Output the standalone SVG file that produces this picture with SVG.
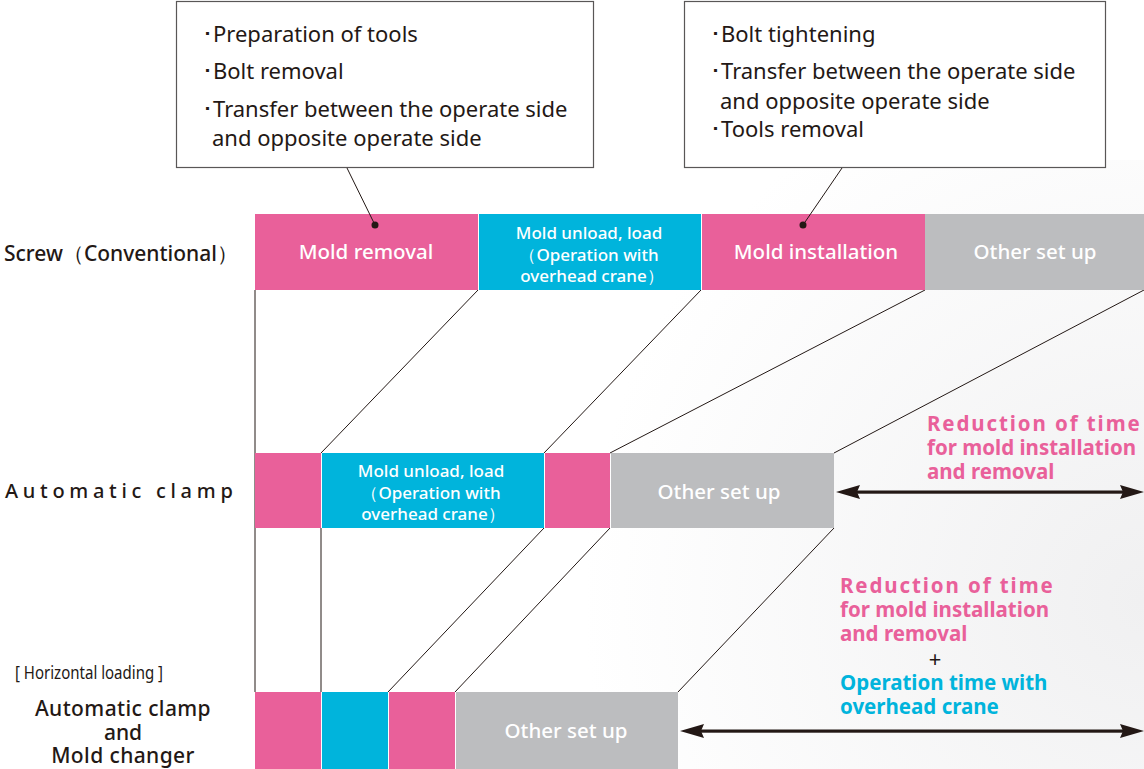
<svg xmlns="http://www.w3.org/2000/svg" width="1144" height="769" viewBox="0 0 1144 769">
<defs>
<radialGradient id="bg" cx="1144" cy="600" r="560" gradientUnits="userSpaceOnUse">
<stop offset="0" stop-color="#f0f0f1"/>
<stop offset="1" stop-color="#ffffff"/>
</radialGradient>
</defs>
<style>
.pk{fill:#e9609a}
.cy{fill:#00b4dc}
.gy{fill:#bcbdbf}
.bt{font-family:"Noto Sans","Open Sans",sans-serif;fill:#ffffff;font-weight:500;text-anchor:middle}
.ct{font-family:"Noto Sans","Open Sans",sans-serif;fill:#231815;font-size:22px}
.lb{font-family:"Noto Sans","Open Sans",sans-serif;fill:#231815;font-weight:500}
.lb.rg{font-weight:400}
.rd{font-family:"Noto Sans","Open Sans",sans-serif;font-weight:700;font-size:20.5px}
.ln{stroke:#231815;stroke-width:1;fill:none}
.ar{fill:#231815}
</style>
<rect x="0" y="0" width="1144" height="769" fill="#ffffff"/>
<rect x="560" y="160" width="584" height="609" fill="url(#bg)"/>

<g id="connectors">
<line class="ln" x1="255" y1="290" x2="255" y2="692"/>
<line class="ln" x1="478" y1="290" x2="321" y2="453"/>
<line class="ln" x1="701" y1="290" x2="544" y2="453"/>
<line class="ln" x1="925" y1="290" x2="610" y2="453"/>
<line class="ln" x1="1144" y1="290" x2="834" y2="453"/>
<line class="ln" x1="321" y1="528" x2="321" y2="692"/>
<line class="ln" x1="544" y1="528" x2="388" y2="692"/>
<line class="ln" x1="610" y1="528" x2="455" y2="692"/>
<line class="ln" x1="834" y1="528" x2="678" y2="692"/>
</g>

<g id="callout1">
<rect x="176.5" y="1.5" width="417" height="166" fill="#ffffff" stroke="#595757" stroke-width="1.2"/>
<text class="ct" x="202" y="42">･Preparation of tools</text>
<text class="ct" x="202" y="79">･Bolt removal</text>
<text class="ct" x="202" y="117">･Transfer between the operate side</text>
<text class="ct" x="212" y="146">and opposite operate side</text>
</g>
<g id="callout2">
<rect x="684.5" y="1.5" width="421" height="166" fill="#ffffff" stroke="#595757" stroke-width="1.2"/>
<text class="ct" x="710" y="42">･Bolt tightening</text>
<text class="ct" x="710" y="79">･Transfer between the operate side</text>
<text class="ct" x="720" y="109">and opposite operate side</text>
<text class="ct" x="710" y="137">･Tools removal</text>
</g>

<g id="row1-label">
<text class="lb" x="4" y="261" font-size="21">Screw（Conventional）</text>
</g>
<g id="row1">
<rect class="pk" x="255" y="214" width="223" height="76"/>
<rect class="cy" x="479" y="214" width="222" height="76"/>
<rect class="pk" x="702" y="214" width="223" height="76"/>
<rect class="gy" x="925" y="214" width="219" height="76"/>
<text class="bt" x="366" y="259" font-size="20.5">Mold removal</text>
<text class="bt" x="589" y="239" font-size="17">Mold unload, load</text>
<text class="bt" x="589" y="261" font-size="17">（Operation with</text>
<text class="bt" x="592" y="282" font-size="17">overhead crane）</text>
<text class="bt" x="816" y="259" font-size="20.5">Mold installation</text>
<text class="bt" x="1035" y="259" font-size="20.5">Other set up</text>
</g>

<g id="leaders">
<line class="ln" x1="347" y1="168" x2="375" y2="225"/>
<line class="ln" x1="842" y1="168" x2="803" y2="225"/>
<circle cx="375" cy="225" r="3.5" fill="#231815"/>
<circle cx="803" cy="225" r="3.5" fill="#231815"/>
</g>

<g id="row2-label">
<text class="lb" x="5" y="498" font-size="20" letter-spacing="4.7">Automatic clamp</text>
</g>
<g id="row2">
<rect class="pk" x="255" y="453" width="66" height="75"/>
<rect class="cy" x="322" y="453" width="222" height="75"/>
<rect class="pk" x="545" y="453" width="65" height="75"/>
<rect class="gy" x="611" y="453" width="223" height="75"/>
<text class="bt" x="431" y="477" font-size="17">Mold unload, load</text>
<text class="bt" x="431" y="499" font-size="17">（Operation with</text>
<text class="bt" x="433" y="520" font-size="17">overhead crane）</text>
<text class="bt" x="719" y="499" font-size="20.5">Other set up</text>
</g>

<g id="row3-label">
<text class="lb rg" x="15" y="679" font-size="18" textLength="148" lengthAdjust="spacingAndGlyphs">[ Horizontal loading ]</text>
<text class="lb" x="123" y="716" font-size="21" text-anchor="middle" letter-spacing="0.4">Automatic clamp</text>
<text class="lb" x="123" y="740" font-size="21" text-anchor="middle">and</text>
<text class="lb" x="123" y="763" font-size="21" text-anchor="middle" letter-spacing="0.4">Mold changer</text>
</g>
<g id="row3">
<rect class="pk" x="255" y="692" width="66" height="77"/>
<rect class="cy" x="322" y="692" width="66" height="77"/>
<rect class="pk" x="389" y="692" width="66" height="77"/>
<rect class="gy" x="456" y="692" width="222" height="77"/>
<text class="bt" x="566" y="738" font-size="20.5">Other set up</text>
</g>

<g id="arrows">
<rect class="ar" x="855" y="490.5" width="270" height="3.2"/>
<polygon class="ar" points="836,492 860,485 857,492 860,499"/>
<polygon class="ar" points="1144,492 1120,485 1123,492 1120,499"/>
<rect class="ar" x="699" y="729.5" width="426" height="3.2"/>
<polygon class="ar" points="680,731 704,724 701,731 704,738"/>
<polygon class="ar" points="1144,731 1120,724 1123,731 1120,738"/>
</g>

<g id="reduction1">
<text class="rd" x="927" y="431" fill="#e9609a" letter-spacing="1.9">Reduction of time</text>
<text class="rd" x="927" y="455" fill="#e9609a">for mold installation</text>
<text class="rd" x="927" y="479" fill="#e9609a">and removal</text>
</g>
<g id="reduction2">
<text class="rd" x="840" y="593" fill="#e9609a" letter-spacing="1.9">Reduction of time</text>
<text class="rd" x="840" y="617" fill="#e9609a">for mold installation</text>
<text class="rd" x="840" y="641" fill="#e9609a">and removal</text>
<text x="935" y="667" font-family="Noto Sans,sans-serif" font-size="22" fill="#231815" text-anchor="middle">+</text>
<text class="rd" x="840" y="690" fill="#00b4dc">Operation time with</text>
<text class="rd" x="840" y="714" fill="#00b4dc">overhead crane</text>
</g>
</svg>
